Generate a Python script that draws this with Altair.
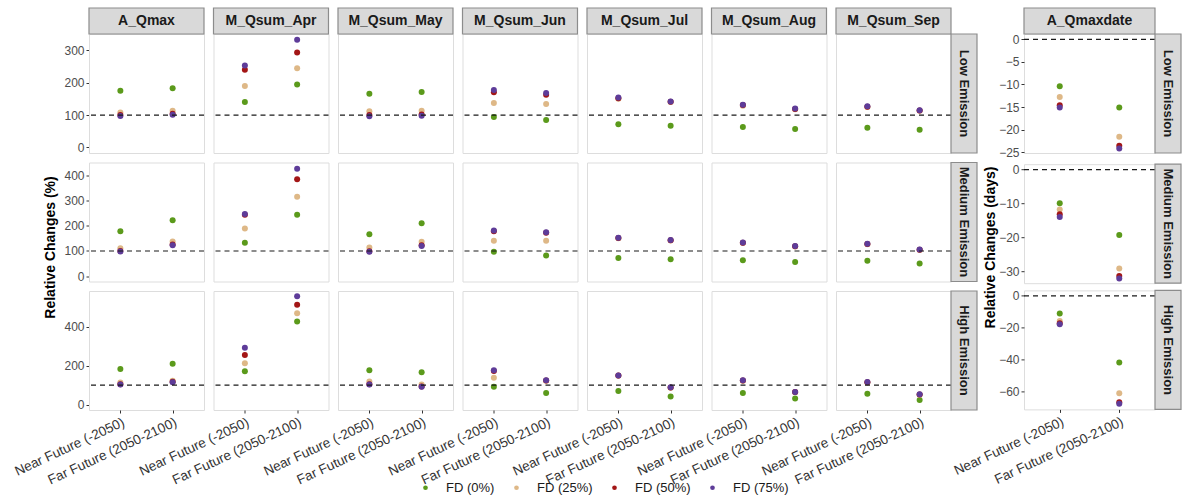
import altair as alt
import pandas as pd

variables = ["A_Qmax", "M_Qsum_Apr", "M_Qsum_May", "M_Qsum_Jun",
             "M_Qsum_Jul", "M_Qsum_Aug", "M_Qsum_Sep"]
right_var = "A_Qmaxdate"
periods = ["Near Future (-2050)", "Far Future (2050-2100)"]
fd_levels = ["FD (0%)", "FD (25%)", "FD (50%)", "FD (75%)"]
fd_colors = ["#5b9a1b", "#deb887", "#a31616", "#5e3c99"]
emissions = ["Low Emission", "Medium Emission", "High Emission"]
y_titles = ["Relative Changes (%)", "Relative Changes (days)"]

# values per variable: (near future [FD0, FD25, FD50, FD75], far future [...])
low_vals = {
    "A_Qmax":     ([175, 108, 100, 97], [183, 113, 104, 101]),
    "M_Qsum_Apr": ([140, 190, 240, 253], [194, 244, 293, 332]),
    "M_Qsum_May": ([166, 112, 100, 96], [171, 113, 102, 98]),
    "M_Qsum_Jun": ([94, 137, 170, 177], [85, 134, 163, 168]),
    "M_Qsum_Jul": ([72, 150, 152, 154], [67, 140, 141, 142]),
    "M_Qsum_Aug": ([63, 129, 131, 132], [57, 118, 119, 120]),
    "M_Qsum_Sep": ([61, 125, 126, 127], [55, 113, 114, 115]),
    "A_Qmaxdate": ([-10.4, -12.8, -14.6, -15.1], [-15.1, -21.6, -23.6, -24.2]),
}
medium_vals = {
    "A_Qmax":     ([178, 111, 100, 98], [222, 138, 126, 123]),
    "M_Qsum_Apr": ([133, 189, 244, 247], [244, 315, 385, 426]),
    "M_Qsum_May": ([166, 114, 99, 97], [210, 137, 123, 120]),
    "M_Qsum_Jun": ([97, 141, 178, 181], [82, 141, 172, 174]),
    "M_Qsum_Jul": ([72, 151, 152, 153], [67, 142, 143, 144]),
    "M_Qsum_Aug": ([63, 132, 133, 134], [56, 118, 119, 120]),
    "M_Qsum_Sep": ([61, 127, 128, 129], [50, 104, 105, 106]),
    "A_Qmaxdate": ([-9.9, -11.7, -13.1, -13.9], [-19.2, -29.1, -31.3, -32.0]),
}
high_vals = {
    "A_Qmax":     ([183, 114, 105, 103], [210, 123, 117, 115]),
    "M_Qsum_Apr": ([171, 212, 255, 292], [427, 470, 513, 557]),
    "M_Qsum_May": ([176, 118, 105, 103], [166, 103, 93, 91]),
    "M_Qsum_Jun": ([91, 138, 172, 176], [60, 122, 124, 125]),
    "M_Qsum_Jul": ([70, 148, 149, 150], [41, 87, 88, 89]),
    "M_Qsum_Aug": ([60, 123, 124, 125], [31, 63, 64, 65]),
    "M_Qsum_Sep": ([56, 113, 115, 116], [24, 51, 52, 53]),
    "A_Qmaxdate": ([-11.0, -15.8, -17.2, -17.7], [-41.7, -60.9, -66.5, -67.5]),
}
all_vals = {"Low Emission": low_vals, "Medium Emission": medium_vals, "High Emission": high_vals}

left_domains = {"Low Emission": [-17, 350], "Medium Emission": [-21, 451], "High Emission": [-28, 584]}
left_ticks = {"Low Emission": [0, 100, 200, 300], "Medium Emission": [0, 100, 200, 300, 400],
              "High Emission": [0, 200, 400]}
right_domains = {"Low Emission": [-25.2, 1.2], "Medium Emission": [-33.4, 1.6], "High Emission": [-71, 3.4]}
right_ticks = {"Low Emission": [0, -5, -10, -15, -20, -25], "Medium Emission": [0, -10, -20, -30],
               "High Emission": [0, -20, -40, -60]}

records = []
for em in emissions:
    for var in variables + [right_var]:
        near, far = all_vals[em][var]
        first = 1
        for p, vals in zip(periods, (near, far)):
            for i, (fd, v) in enumerate(zip(fd_levels, vals)):
                records.append({"emission": em, "variable": var, "period": p, "fd": fd,
                                "fd_idx": i, "value": v, "first": first,
                                "ref": 0 if var == right_var else 100})
                first = 0
df = pd.DataFrame(records)

W, H, WR, SH, GAP = 115, 119, 131, 26, 9
FONT = "Liberation Sans"

legend = alt.Legend(orient="none", legendX=375, legendY=447, direction="horizontal", title=None,
                    symbolSize=22, symbolType="circle", labelFontSize=13, labelColor="#1a1a1a",
                    columnPadding=15, labelOffset=14, symbolStrokeWidth=0)


def build_layers(base, width, ydom, yticks, is_top, is_bottom, strip_filter):
    xaxis = alt.Axis(title=None, labelAngle=-25, labelAlign="right", labelBaseline="top",
                     labelFontSize=13.5, labelColor="#333333", tickSize=3, domain=False,
                     labelPadding=2, labelOverlap=False) if is_bottom else None
    yaxis = alt.Axis(values=yticks, title=None, labelFontSize=12,
                     labelColor="#4d4d4d", tickSize=3, domain=False, grid=False)
    yscale = alt.Scale(domain=ydom, nice=False, zero=False)
    xenc = alt.X("period:N", sort=periods, scale=alt.Scale(type="point", padding=0.6), axis=xaxis)
    pts = base.mark_circle(size=36, opacity=1).encode(
        x=xenc,
        y=alt.Y("value:Q", scale=yscale, axis=yaxis),
        color=alt.Color("fd:N", scale=alt.Scale(domain=fd_levels, range=fd_colors), legend=legend),
        order=alt.Order("fd_idx:Q"),
    )
    rule = base.transform_filter("datum.first == 1").mark_rule(
        strokeDash=[5, 4], color="#1a1a1a", strokeWidth=1.2).encode(
        y=alt.Y("ref:Q", scale=yscale, axis=yaxis))
    layers = [pts, rule]
    if is_top:
        top = base.transform_filter("datum.first == 1")
        layers.append(top.mark_rect(fill="#d9d9d9", stroke="#8c8c8c", strokeWidth=1.2).encode(
            x=alt.value(0), x2=alt.value(width), y=alt.value(-SH), y2=alt.value(0)))
        layers.append(top.mark_text(fontSize=14, fontWeight="bold", color="#1a1a1a", font=FONT).encode(
            x=alt.value(width / 2), y=alt.value(-SH / 2), text="variable:N"))
    side = base.transform_filter(strip_filter)
    layers.append(side.mark_rect(fill="#d9d9d9", stroke="#8c8c8c", strokeWidth=1.2).encode(
        x=alt.value(width), x2=alt.value(width + SH), y=alt.value(0), y2=alt.value(H)))
    layers.append(side.mark_text(fontSize=13, fontWeight="bold", color="#1a1a1a", angle=90, font=FONT).encode(
        x=alt.value(width + SH / 2), y=alt.value(H / 2), text="emission:N"))
    return layers


def title_chart(text):
    tdf = pd.DataFrame({"t": [text]})
    total_h = SH + 3 * H + 2 * GAP
    return alt.Chart(tdf).mark_text(angle=270, fontSize=14, fontWeight="bold", color="#000000",
                                    font=FONT).encode(
        text="t:N", x=alt.value(7), y=alt.value(SH + (3 * H + 2 * GAP) / 2)
    ).properties(width=14, height=total_h, view=alt.ViewBackground(stroke="transparent"))


left_rows = []
right_rows = []
for i, em in enumerate(emissions):
    is_top = i == 0
    is_bottom = i == 2
    dleft = df[(df.emission == em) & (df.variable != right_var)]
    dright = df[(df.emission == em) & (df.variable == right_var)]
    layers = build_layers(alt.Chart(), W, left_domains[em], left_ticks[em], is_top, is_bottom,
                          "datum.first == 1 && datum.variable == 'M_Qsum_Sep'")
    row = alt.layer(*layers, data=dleft).properties(width=W, height=H).facet(
        column=alt.Column("variable:N", sort=variables,
                          header=alt.Header(labels=False, title=None)),
        spacing=9.5,
    ).resolve_axis(x="independent").properties(bounds="flush")
    left_rows.append(row)
    layers_r = build_layers(alt.Chart(dright), WR, right_domains[em], right_ticks[em],
                            is_top, is_bottom, "datum.first == 1")
    right_rows.append(alt.layer(*layers_r).properties(width=WR, height=H))

# spacings compensate for tick labels that overhang the panel edges
left = alt.vconcat(*left_rows, spacing=5.5)
right = alt.vconcat(*right_rows, spacing=3.2)

left_block = alt.hconcat(title_chart(y_titles[0]), left, spacing=-48)
right_block = alt.hconcat(title_chart(y_titles[1]), right, spacing=-48)

chart = alt.hconcat(left_block, right_block, spacing=-28).properties(
    padding={"left": 11, "top": 6, "right": 5, "bottom": 2},
    background="white",
).configure_view(stroke="#8c8c8c", strokeWidth=1.2).configure(font=FONT).configure_axis(
    tickColor="#333333", labelFont=FONT, titleFont=FONT
).configure_legend(labelFont=FONT)

chart.save("out.html", embed_options={"renderer": "svg", "actions": False})
